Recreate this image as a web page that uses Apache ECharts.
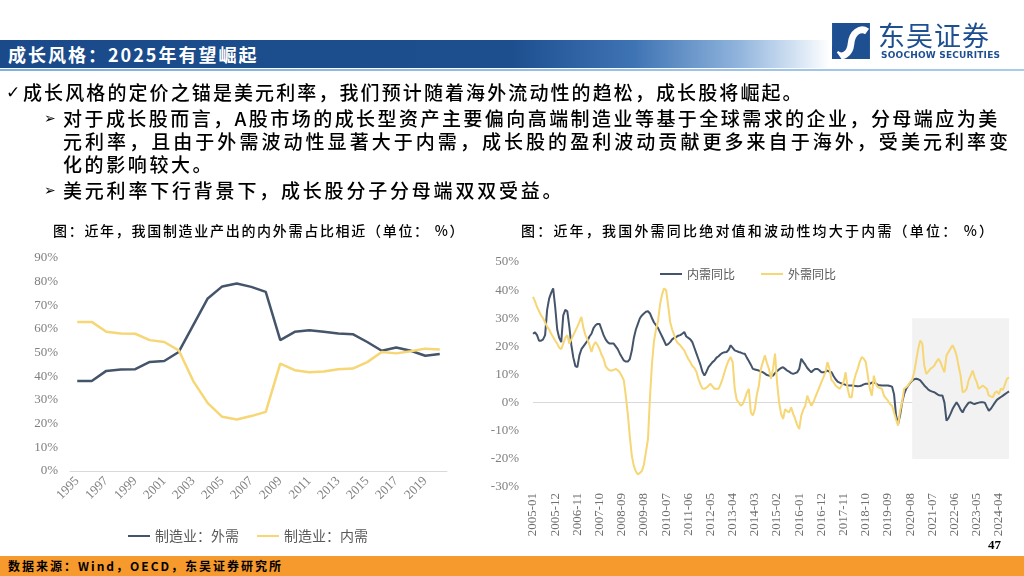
<!DOCTYPE html>
<html>
<head>
<meta charset="utf-8">
<script src="https://cdn.jsdelivr.net/npm/echarts@6/dist/echarts.min.js"></script>
<style>
html,body{margin:0;padding:0;width:1024px;height:576px;overflow:hidden;background:#fff;}
#chart{position:absolute;left:0;top:0;width:1024px;height:576px;}
.t{position:absolute;white-space:nowrap;font-family:'Noto Sans CJK SC',sans-serif;color:#000;}
.b{font-size:19px;line-height:24px;font-weight:500;}
.mk{position:absolute;font-family:'DejaVu Sans',sans-serif;color:#000;}
</style>
</head>
<body>
<div id="chart"></div>

<!-- header -->
<div style="position:absolute;left:0;top:40px;width:1024px;height:28px;background:linear-gradient(to right,#1a4a8a 0%,#1d4f8f 50%,#3f74b4 62%,#8fb3dc 72%,#d7e5f4 78%,#ffffff 81%);"></div>
<div style="position:absolute;left:0;top:69px;width:1024px;height:2px;background:linear-gradient(to right,#7fb0de,#a9cbec);"></div>
<div class="t" style="left:8px;top:40px;line-height:28px;font-size:18px;font-weight:bold;color:#fff;letter-spacing:2px;">成长风格：2025年有望崛起</div>

<!-- logo -->
<svg style="position:absolute;left:832px;top:23px;" width="38" height="36" viewBox="0 0 40 38">
  <rect x="0" y="0" width="40" height="38" fill="#1d4f91"/>
  <path d="M4,32 C10,38 19,33 20,22 C21,10 30,4 37,9" stroke="#fff" stroke-width="7" fill="none"/>
  <path d="M0,38 L0,24 L10,38 Z" fill="#1d4f91"/>
</svg>
<div class="t" style="left:878px;top:19px;font-size:27px;line-height:32px;color:#1d4f91;letter-spacing:1px;">东吴证券</div>
<div class="t" style="left:881px;top:50px;font-size:9px;line-height:10px;font-family:'DejaVu Sans',sans-serif;font-weight:bold;color:#1d4f91;letter-spacing:0.2px;">SOOCHOW SECURITIES</div>

<!-- bullets -->
<div class="mk" style="left:6px;top:80px;font-size:17px;line-height:24px;">✓</div>
<div class="t b" style="left:23px;top:80px;letter-spacing:2.1px;">成长风格的定价之锚是美元利率，我们预计随着海外流动性的趋松，成长股将崛起。</div>
<div class="mk" style="left:44px;top:106px;font-size:14px;line-height:24px;">➢</div>
<div class="t b" style="left:63px;top:106px;letter-spacing:2.45px;">对于成长股而言，A股市场的成长型资产主要偏向高端制造业等基于全球需求的企业，分母端应为美</div>
<div class="t b" style="left:63px;top:129px;letter-spacing:3.05px;">元利率，且由于外需波动性显著大于内需，成长股的盈利波动贡献更多来自于海外，受美元利率变</div>
<div class="t b" style="left:63px;top:152px;letter-spacing:2.6px;">化的影响较大。</div>
<div class="mk" style="left:44px;top:178px;font-size:14px;line-height:24px;">➢</div>
<div class="t b" style="left:63px;top:178px;letter-spacing:2.8px;">美元利率下行背景下，成长股分子分母端双双受益。</div>

<!-- chart titles -->
<div class="t" style="left:53px;top:220px;font-size:14px;line-height:20px;font-weight:500;letter-spacing:1.7px;">图：近年，我国制造业产出的内外需占比相近（单位： %）</div>
<div class="t" style="left:521px;top:220px;font-size:14px;line-height:20px;font-weight:500;letter-spacing:2.2px;">图：近年，我国外需同比绝对值和波动性均大于内需（单位： %）</div>

<!-- footer -->
<div style="position:absolute;left:0;top:556px;width:1024px;height:20px;background:#f79a2e;"></div>
<div class="t" style="left:8px;top:556px;font-size:12px;line-height:20px;font-weight:bold;letter-spacing:2px;">数据来源：Wind，OECD，东吴证券研究所</div>
<div class="t" style="left:988px;top:536px;font-size:13px;line-height:18px;font-weight:bold;font-family:'Liberation Serif',serif;">47</div>

<script>
// ---------- Left chart data ----------
const leftYears = ['1995','1996','1997','1998','1999','2000','2001','2002','2003','2004','2005','2006','2007','2008','2009','2010','2011','2012','2013','2014','2015','2016','2017','2018','2019','2020'];
const mfgExternal = [38,38,42.3,42.9,43,46.1,46.5,50.3,61.6,72.9,78,79.2,77.8,75.7,55.3,58.8,59.5,58.8,58.1,57.8,54.5,50.8,52.2,50.8,48.7,49.4];
const mfgDomestic = [63,63,58.8,58.1,58,55.3,54.5,51,38,28.7,22.9,21.8,23.2,25,45.4,42.6,41.7,42,43,43.3,46,50.3,49.7,50.6,51.7,51.3];
const leftSeriesNames = ['制造业：外需','制造业：内需'];

// ---------- Right chart data (monthly, from 2005-01) ----------
const monthStart = [2005, 1];
const domesticYoY = [
 24.5,25,24,22,22,22.5,24,33,37,39,
 40.6,34,26,23,21.5,31,33,32.5,27,20.5,
 16,13,12.6,16.8,19,20,21,22,23.5,24.5,
 26.5,27.5,28,28,26,24,22.5,21.5,21,21,
 21,20,19,17.5,16.2,15,14.6,14.6,15.5,18.5,
 23,26,28,30,31,31.7,32.3,32.5,31.7,30,
 28.5,27.5,26.5,25,23.5,22,20.4,20.8,21.5,22.5,
 23,23.3,23.8,24,24.5,25.1,23.5,23,22.5,21.5,
 19.5,17.5,15.5,13.5,11,9.6,11,12.6,13.5,14.4,
 15,16,16.5,17.2,17.7,17.9,18,18.8,20.4,19.5,
 18.6,18.3,18,17.8,17.5,17.4,16,14.8,13.5,12,
 11.8,11.6,11.4,11,10.8,10.3,9.8,9.6,9.6,9.6,
 10.5,11.2,11.8,12.3,12.6,12,11.4,11,10.5,10.2,
 10.5,10.8,12,15.6,14.5,13.5,12.3,11.5,10.8,11.5,
 12,12,11.5,10.8,10.8,11,11.4,11,10.8,9.5,
 8.3,7.5,7.1,6.8,6.6,6.3,6.1,6.1,6.1,6,
 5.9,5.8,5.9,6.1,6.5,6.7,6.7,6.7,7.1,7.3,
 6.8,6.3,6.2,6.1,6.1,6.1,6.1,5.9,5.7,3,
 -4.6,-7.6,-4.5,0,3,4.9,6,7,7.8,8.3,
 8.5,8.3,7.9,7,6.1,5.4,4.6,4.2,3.9,3.7,
 3.2,2.7,2.5,2.5,0,-6.4,-5.5,-4,-2.3,-1,
 0.1,-1,-2.5,-3.5,-2,-1,0,0.1,-0.3,-0.5,
 -0.2,0,0.1,0.1,0,-1.5,-2.9,-2.2,-1.1,0,
 1,1.5,2,2.5,3,3.5,4
];
const externalYoY = [
 37.6,36,34,32.5,31,30,28.5,27,26,24.5,
 23.3,22,21,19.5,19,21,23,24,21,22.5,
 24,25.5,27,28.7,30.5,26.5,24,22.5,20.5,18,
 20.4,21.5,20.5,19,17,15.6,13,12,11.4,11.4,
 11.6,12,11.5,10.8,9.5,8,2.5,-4,-12,-19,
 -22.5,-24.5,-25.5,-25,-24.3,-22,-17.5,-13,2,14,
 22,26,29,35,38.5,40.6,40,34.6,28.7,26,
 24,22,21,20.4,19.5,18.6,17,15.5,14.4,13,
 12.3,11,8.5,6.5,5,4.9,5.3,6,6.7,5.8,
 4.9,4.9,4.9,6.5,8.5,11,13.2,15,16.2,14.4,
 5,1,0.1,-1.1,-0.5,1.3,3.5,4.9,-3.5,-4.6,
 -2.3,3,6.1,12,14.5,16.8,14,12,8.5,12,
 17.4,7.3,0.1,-4,-5.8,-2.3,-3,-3.5,-1.7,-4,
 -5.8,-8,-9.4,-4.6,-2.5,-1.1,2.5,0.5,-1.1,0.1,
 2,3.7,5.5,7.3,9,10.8,14.4,12,8,7.3,
 6.1,5.5,4.9,6,7.3,10.8,4.9,1.9,1.9,7.3,
 10,12,14.5,16.2,15.6,14.4,9.6,4.9,2.5,9.6,
 6.5,5.5,5.2,4.9,2.5,1.5,0.7,-0.5,-1.1,-3.5,
 -6,-8.2,-3,0.1,4.9,5.5,6.1,7.3,8,10.8,
 15,19.2,22.1,21,13.2,10.2,11,12,12.5,13.2,
 14.5,15.6,14.4,12.5,10.8,16.8,18,19.2,20.4,19,
 16.8,13,9.6,3.7,4,4.9,8,9.6,11.4,9,
 7.3,4.9,5.5,6.1,5.5,4.9,2.5,2.2,1.9,3.5,
 4,3,5,4.5,6.5,8.5,9
];
const rightSeriesNames = ['内需同比','外需同比'];
const shadeFrom = '2020-09';
const shadeRange = [-20, 30];

const months = domesticYoY.map((_, i) => {
  const t = monthStart[0] * 12 + (monthStart[1] - 1) + i;
  return Math.floor(t / 12) + '-' + String(t % 12 + 1).padStart(2, '0');
});

const serif = "'Liberation Serif','Times New Roman',serif";
const cjk = "'Noto Sans CJK SC',sans-serif";
const dark = '#44546a';
const gold = '#f6d675';

const chart = echarts.init(document.getElementById('chart'));
chart.setOption({
  animation: false,
  grid: [
    {left: 70, top: 258, width: 377, height: 213},
    {left: 533, top: 262, width: 476, height: 225}
  ],
  xAxis: [
    {gridIndex: 0, type: 'category', data: leftYears, boundaryGap: true,
     axisLine: {lineStyle: {color: '#d9d9d9'}}, axisTick: {show: false},
     axisLabel: {interval: 1, rotate: 45, color: '#7f7f7f', fontFamily: serif, fontSize: 13, margin: 8}},
    {gridIndex: 1, type: 'category', data: months, boundaryGap: false,
     axisLine: {show: false, onZero: false}, axisTick: {show: false},
     axisLabel: {interval: 10, rotate: 90, color: '#6f6f6f', fontFamily: serif, fontSize: 13, margin: 6}}
  ],
  yAxis: [
    {gridIndex: 0, type: 'value', min: 0, max: 90, interval: 10,
     splitLine: {show: false}, axisLine: {show: false}, axisTick: {show: false},
     axisLabel: {formatter: '{value}%', color: '#7f7f7f', fontFamily: serif, fontSize: 13, margin: 12}},
    {gridIndex: 1, type: 'value', min: -30, max: 50, interval: 10,
     splitLine: {show: false}, axisLine: {show: false}, axisTick: {show: false},
     axisLabel: {formatter: '{value}%', color: '#7f7f7f', fontFamily: serif, fontSize: 13, margin: 14}}
  ],
  legend: [
    {data: leftSeriesNames, left: 123, top: 524, icon: 'rect', itemWidth: 22, itemHeight: 2, itemGap: 18,
     textStyle: {color: '#595959', fontFamily: cjk, fontSize: 14}},
    {data: rightSeriesNames, left: 655, top: 263, icon: 'rect', itemWidth: 22, itemHeight: 2, itemGap: 26,
     textStyle: {color: '#595959', fontFamily: cjk, fontSize: 12}}
  ],
  series: [
    {name: leftSeriesNames[0], type: 'line', xAxisIndex: 0, yAxisIndex: 0, data: mfgExternal,
     symbol: 'none', lineStyle: {color: dark, width: 2.5}, itemStyle: {color: dark}},
    {name: leftSeriesNames[1], type: 'line', xAxisIndex: 0, yAxisIndex: 0, data: mfgDomestic,
     symbol: 'none', lineStyle: {color: gold, width: 2.5}, itemStyle: {color: gold}},
    {name: rightSeriesNames[0], type: 'line', xAxisIndex: 1, yAxisIndex: 1, data: domesticYoY,
     symbol: 'none', lineStyle: {color: dark, width: 2}, itemStyle: {color: dark},
     markArea: {silent: true, itemStyle: {color: '#f2f2f2'},
       data: [[{xAxis: shadeFrom, yAxis: shadeRange[0]}, {xAxis: months[months.length - 1], yAxis: shadeRange[1]}]]},
     markLine: {silent: true, symbol: 'none', label: {show: false}, z: 0,
       lineStyle: {color: '#d9d9d9', width: 1, type: 'solid'}, data: [{yAxis: 0}]}},
    {name: rightSeriesNames[1], type: 'line', xAxisIndex: 1, yAxisIndex: 1, data: externalYoY,
     symbol: 'none', lineStyle: {color: gold, width: 2}, itemStyle: {color: gold}}
  ]
});
</script>
</body>
</html>
